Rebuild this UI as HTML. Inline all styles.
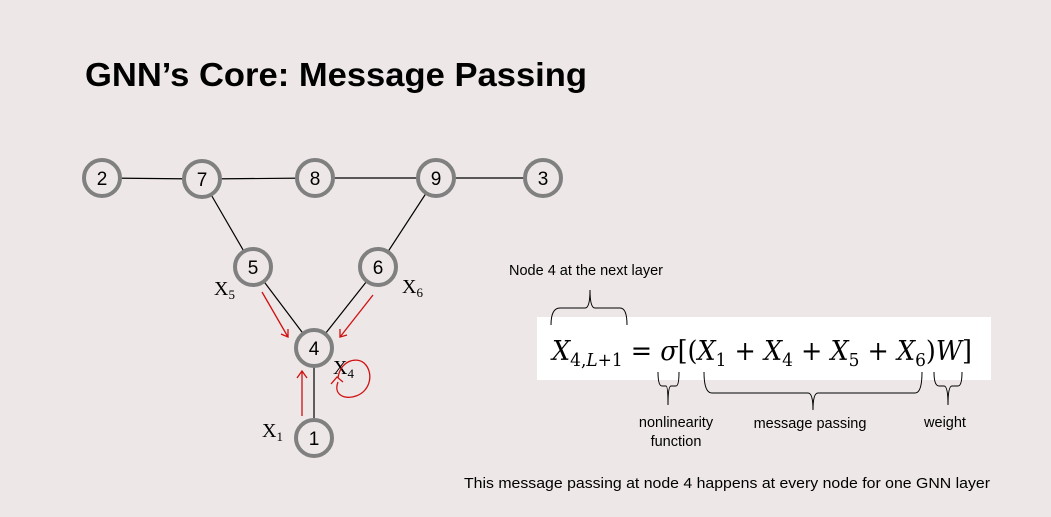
<!DOCTYPE html>
<html><head><meta charset="utf-8"><style>
body{margin:0;width:1051px;height:517px;background:#ede7e7;overflow:hidden;font-family:"Liberation Sans",sans-serif;}
svg{position:absolute;left:0;top:0}
</style></head><body>
<svg width="1051" height="517" xmlns="http://www.w3.org/2000/svg">
<rect width="1051" height="517" fill="#ede7e7"/>
<text x="85" y="86" font-family="Liberation Sans, sans-serif" font-weight="bold" font-size="33" fill="#000" textLength="502" lengthAdjust="spacingAndGlyphs">GNN’s Core: Message Passing</text>
<g stroke="#000" stroke-width="1.2">
<line x1="102" y1="178" x2="202" y2="179"/><line x1="202" y1="179" x2="315" y2="178"/>
<line x1="315" y1="178" x2="436" y2="178"/><line x1="436" y1="178" x2="543" y2="178"/>
<line x1="202" y1="179" x2="253" y2="267"/><line x1="436" y1="178" x2="378" y2="267"/>
<line x1="253" y1="267" x2="314" y2="348"/><line x1="378" y1="267" x2="314" y2="348"/>
<line x1="314" y1="348" x2="314" y2="438"/>
</g>
<g stroke="#808080" stroke-width="4" fill="#ede7e7">
<circle cx="102" cy="178" r="18"/><circle cx="202" cy="179" r="18"/><circle cx="315" cy="178" r="18"/>
<circle cx="436" cy="178" r="18"/><circle cx="543" cy="178" r="18"/><circle cx="253" cy="267" r="18"/>
<circle cx="378" cy="267" r="18"/><circle cx="314" cy="348" r="18"/><circle cx="314" cy="438" r="18"/>
</g>
<g font-family="Liberation Sans, sans-serif" font-size="19" text-anchor="middle" fill="#000">
<text x="102" y="185">2</text><text x="202" y="186">7</text><text x="315" y="185">8</text>
<text x="436" y="185">9</text><text x="543" y="185">3</text><text x="253" y="274">5</text>
<text x="378" y="274">6</text><text x="314" y="355">4</text><text x="314" y="445">1</text>
</g>
<g font-family="Liberation Serif, serif" font-size="20" fill="#000">
<text x="214" y="295">X<tspan font-size="13" dy="4">5</tspan></text>
<text x="402" y="293">X<tspan font-size="13" dy="4">6</tspan></text>
<text x="333" y="374">X<tspan font-size="13" dy="4">4</tspan></text>
<text x="262" y="437">X<tspan font-size="13" dy="4">1</tspan></text>
</g>
<g stroke="#d01010" stroke-width="1.3" fill="none">
<line x1="262" y1="292" x2="288" y2="337"/><polyline points="281,334 288,337 288,329"/>
<line x1="373" y1="295" x2="340" y2="337"/><polyline points="340,329 340,337 347,335"/>
<line x1="302" y1="416" x2="302" y2="371"/><polyline points="297,378 302,371 307,378"/>
<path d="M338,382 C333,395 345,400 356,396 C371,391 374,372 364,363 C355,356 340,362 338,378"/>
<polyline points="331,384 337,377 343,382"/>
</g>
<rect x="537" y="317" width="454" height="63" fill="#fff"/>
<text x="552" y="360" font-family="DejaVu Serif, serif" font-size="27" fill="#000" textLength="420" lengthAdjust="spacingAndGlyphs"><tspan font-style="italic">X</tspan><tspan font-size="18" dy="6">4,</tspan><tspan font-size="18" font-style="italic">L</tspan><tspan font-size="18">+1</tspan><tspan dy="-6"> = </tspan><tspan font-style="italic">σ</tspan>[(<tspan font-style="italic">X</tspan><tspan font-size="18" dy="6">1</tspan><tspan dy="-6"> + </tspan><tspan font-style="italic">X</tspan><tspan font-size="18" dy="6">4</tspan><tspan dy="-6"> + </tspan><tspan font-style="italic">X</tspan><tspan font-size="18" dy="6">5</tspan><tspan dy="-6"> + </tspan><tspan font-style="italic">X</tspan><tspan font-size="18" dy="6">6</tspan><tspan dy="-6">)</tspan><tspan font-style="italic">W</tspan>]</text>
<g stroke="#000" stroke-width="1" fill="none">
<path d="M551,325 Q551,308 560,308 L585,308 Q590,308 590,290 Q590,308 595,308 L620,308 Q627,308 627,325"/>
<path d="M658,372 Q658,386 662,386 L666,386 Q668,386 668,405 Q668,386 671,386 L676,386 Q679,386 679,372"/>
<path d="M704,372 Q704,393 712,393 L808,393 Q813,393 813,410 Q813,393 818,393 L915,393 Q922,393 922,372"/>
<path d="M934,372 Q934,386 939,386 L944,386 Q948,386 948,405 Q948,386 952,386 L958,386 Q962,386 962,372"/>
</g>
<g font-family="Liberation Sans, sans-serif" font-size="14.5" fill="#000" text-anchor="middle">
<text x="586" y="275">Node 4 at the next layer</text>
<text x="676" y="427">nonlinearity</text><text x="676" y="446">function</text>
<text x="810" y="428">message passing</text>
<text x="945" y="427">weight</text>
<text x="727" y="488" textLength="526" lengthAdjust="spacingAndGlyphs">This message passing at node 4 happens at every node for one GNN layer</text>
</g>
</svg>
</body></html>
